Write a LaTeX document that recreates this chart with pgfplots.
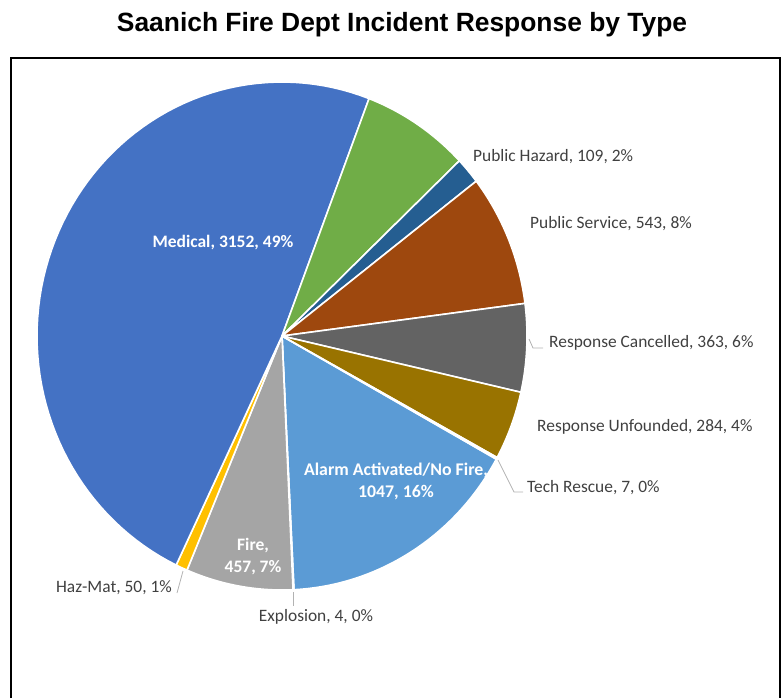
\documentclass[border=0pt]{standalone}
\usepackage{pgfplots}
\pgfplotsset{compat=1.18}
\usepackage{fontspec}
\setmainfont{Carlito}
\newfontfamily\titlefont{Liberation Sans}
\definecolor{cAlarm}{HTML}{5B9BD5}
\definecolor{cExpl}{HTML}{ED7D31}
\definecolor{cFire}{HTML}{A5A5A5}
\definecolor{cHaz}{HTML}{FFC000}
\definecolor{cMed}{HTML}{4472C4}
\definecolor{cOther}{HTML}{70AD47}
\definecolor{cPH}{HTML}{255E91}
\definecolor{cPS}{HTML}{9E480E}
\definecolor{cRC}{HTML}{636363}
\definecolor{cRU}{HTML}{997300}
\definecolor{cTR}{HTML}{264478}
\definecolor{lbl}{HTML}{404040}
% data (counts), clockwise from the first slice
\def\vAlarm{1047}\def\vExpl{4}\def\vFire{457}\def\vHaz{50}\def\vMed{3152}
\def\vOther{460}\def\vPH{109}\def\vPS{543}\def\vRC{363}\def\vRU{284}\def\vTR{7}
\pgfmathsetmacro{\T}{\vAlarm+\vExpl+\vFire+\vHaz+\vMed+\vOther+\vPH+\vPS+\vRC+\vRU+\vTR}
\pgfmathsetmacro{\aA}{119}
\pgfmathsetmacro{\aB}{\aA+360*(\vAlarm/\T)}
\pgfmathsetmacro{\aC}{\aB+360*(\vExpl/\T)}
\pgfmathsetmacro{\aD}{\aC+360*(\vFire/\T)}
\pgfmathsetmacro{\aE}{\aD+360*(\vHaz/\T)}
\pgfmathsetmacro{\aF}{\aE+360*(\vMed/\T)}
\pgfmathsetmacro{\aG}{\aF+360*(\vOther/\T)}
\pgfmathsetmacro{\aH}{\aG+360*(\vPH/\T)}
\pgfmathsetmacro{\aI}{\aH+360*(\vPS/\T)}
\pgfmathsetmacro{\aJ}{\aI+360*(\vRC/\T)}
\pgfmathsetmacro{\aK}{\aJ+360*(\vRU/\T)}
\pgfmathsetmacro{\aL}{\aA+360}
\def\cx{282}\def\cy{336}\def\rx{245}\def\ry{254}
\newcommand\slice[3]{%
  \addplot[fill=#1, draw=white, line width=1.6pt, line join=round, domain=#2:#3, samples=80, variable=\t]
    ({\cx+\rx*sin(\t)}, {\cy-\ry*cos(\t)}) -- (axis cs:\cx,\cy) -- cycle;}
\begin{document}
\begin{tikzpicture}
\begin{axis}[
  scale only axis, width=783pt, height=698pt,
  xmin=0, xmax=783, ymin=0, ymax=698, y dir=reverse,
  hide axis, clip=false]
\slice{cAlarm}{\aA}{\aB}
\slice{cExpl}{\aB}{\aC}
\slice{cFire}{\aC}{\aD}
\slice{cHaz}{\aD}{\aE}
\slice{cMed}{\aE}{\aF}
\slice{cOther}{\aF}{\aG}
\slice{cPH}{\aG}{\aH}
\slice{cPS}{\aH}{\aI}
\slice{cRC}{\aI}{\aJ}
\slice{cRU}{\aJ}{\aK}
\slice{cTR}{\aK}{\aL}
% frame
\draw[black, line width=2pt] (axis cs:11,698) -- (axis cs:11,58) -- (axis cs:780,58) -- (axis cs:780,698);
% title
\node[font=\titlefont\bfseries\fontsize{26.4}{30}\selectfont] at (axis cs:402,25) {Saanich Fire Dept Incident Response by Type};
% inner labels
\node[text=white, font=\bfseries\fontsize{17.5}{19}\selectfont] at (axis cs:223,243) {Medical, \vMed, 49\%};
\node[text=white, font=\bfseries\fontsize{17.8}{19}\selectfont, align=center] at (axis cs:396,481) {Alarm Activated/No Fire,\\[3pt]\vAlarm, 16\%};
\node[text=white, font=\bfseries\fontsize{17.5}{19}\selectfont, align=center] at (axis cs:253,557) {Fire,\\[3pt]\vFire, 7\%};
% outside labels
\tikzset{ol/.style={text=lbl, font=\fontsize{17.4}{19}\selectfont, inner sep=0pt}}
\node[ol, anchor=west] at (axis cs:473,157) {Public Hazard, \vPH, 2\%};
\node[ol, anchor=west] at (axis cs:530,224) {Public Service, \vPS, 8\%};
\node[ol, anchor=west] at (axis cs:549,343) {Response Cancelled, \vRC, 6\%};
\node[ol, anchor=west] at (axis cs:537,427) {Response Unfounded, \vRU, 4\%};
\node[ol, anchor=west] at (axis cs:527,488) {Tech Rescue, \vTR, 0\%};
\node[ol] at (axis cs:316,617) {Explosion, \vExpl, 0\%};
\node[ol, anchor=east] at (axis cs:172,588) {Haz-Mat, \vHaz, 1\%};
% leader lines
\draw[gray!60, line width=0.8pt] (axis cs:529,339) -- (axis cs:533,348) -- (axis cs:543,348);
\draw[gray!60, line width=0.8pt] (axis cs:498,460) -- (axis cs:514,492) -- (axis cs:523,492);
\draw[gray!60, line width=0.8pt] (axis cs:293,592) -- (axis cs:293,606);
\draw[gray!60, line width=0.8pt] (axis cs:183,571) -- (axis cs:177,593);
\end{axis}
\pgfresetboundingbox
\useasboundingbox (0,0) rectangle (783pt,698pt);
\end{tikzpicture}
\end{document}
